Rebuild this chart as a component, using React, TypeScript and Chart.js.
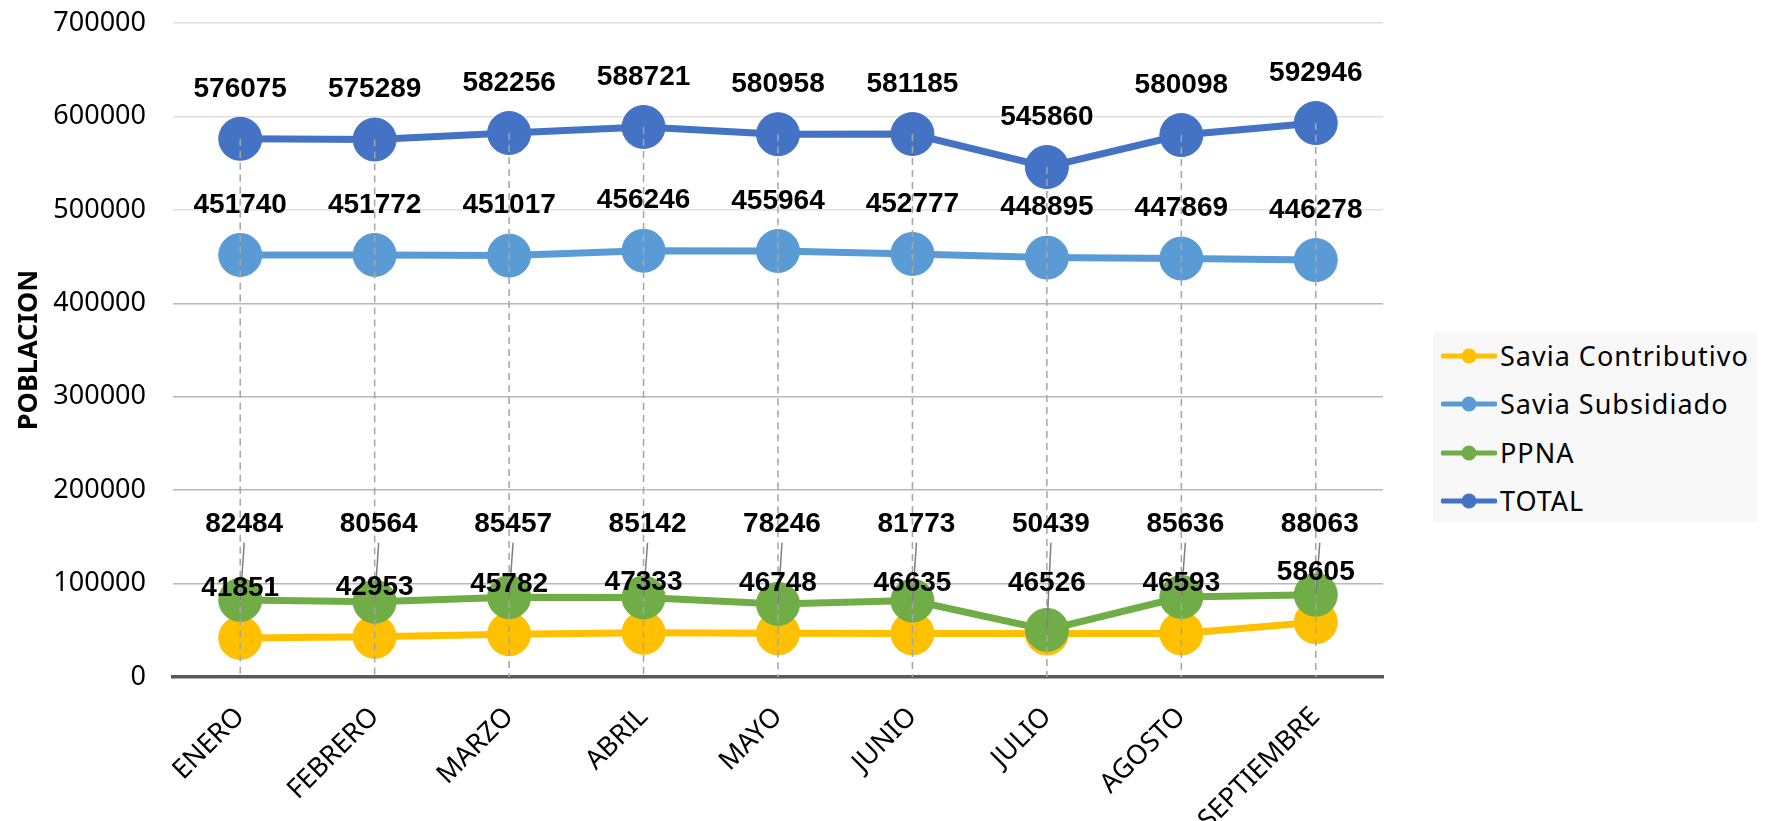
import React, { useEffect, useRef } from 'react';
import { Chart, registerables } from 'chart.js';

Chart.register(...registerables);

const months = ['ENERO', 'FEBRERO', 'MARZO', 'ABRIL', 'MAYO', 'JUNIO', 'JULIO', 'AGOSTO', 'SEPTIEMBRE'];
const saviaContributivo = [41851, 42953, 45782, 47333, 46748, 46635, 46526, 46593, 58605];
const saviaSubsidiado = [451740, 451772, 451017, 456246, 455964, 452777, 448895, 447869, 446278];
const ppna = [82484, 80564, 85457, 85142, 78246, 81773, 50439, 85636, 88063];
const total = [576075, 575289, 582256, 588721, 580958, 581185, 545860, 580098, 592946];
const yMin = 0;
const yMax = 700000;
const yStep = 100000;
const axisTitle = 'POBLACION';

const seriesNames = ['Savia Contributivo', 'Savia Subsidiado', 'PPNA', 'TOTAL'];
const seriesColors = ['#FFC000', '#5B9BD5', '#70AD47', '#4472C4'];

const W = 1765;
const H = 821;

const overlayPlugin = {
  id: 'overlay',
  afterDatasetsDraw(chart: any) {
    const ctx = chart.ctx;
    const bottom = chart.chartArea.bottom;
    const yScale = chart.scales.y;
    // drop lines from TOTAL points
    const totMeta = chart.getDatasetMeta(3);
    ctx.save();
    ctx.strokeStyle = '#a6a6a6';
    ctx.lineWidth = 1.5;
    ctx.setLineDash([7, 5]);
    totMeta.data.forEach((pt: any) => {
      ctx.beginPath();
      ctx.moveTo(pt.x, pt.y);
      ctx.lineTo(pt.x, bottom);
      ctx.stroke();
    });
    ctx.setLineDash([]);

    // PPNA label row (aligned above highest PPNA point) with leader lines
    const ppnaMeta = chart.getDatasetMeta(2);
    const ppnaRowY = yScale.getPixelForValue(Math.max(...ppna)) - 70;
    ctx.strokeStyle = '#7f7f7f';
    ctx.lineWidth = 1.5;
    ppnaMeta.data.forEach((pt: any) => {
      ctx.beginPath();
      ctx.moveTo(pt.x + 4, ppnaRowY + 18);
      ctx.lineTo(pt.x, pt.y);
      ctx.stroke();
    });

    ctx.font = 'bold 28px "Liberation Sans", Arial, sans-serif';
    ctx.fillStyle = '#000000';
    ctx.textAlign = 'center';
    ctx.textBaseline = 'middle';
    const drawAbove = (idx: number, values: number[]) => {
      const meta = chart.getDatasetMeta(idx);
      meta.data.forEach((pt: any, i: number) => {
        ctx.fillText(String(values[i]), pt.x, pt.y - 50);
      });
    };
    drawAbove(3, total);
    drawAbove(1, saviaSubsidiado);
    ppnaMeta.data.forEach((pt: any, i: number) => {
      ctx.fillText(String(ppna[i]), pt.x + 4, ppnaRowY);
    });
    drawAbove(0, saviaContributivo);
    ctx.restore();
  },
};

export default function App() {
  const canvasRef = useRef<HTMLCanvasElement | null>(null);

  useEffect(() => {
    const canvas = canvasRef.current;
    if (!canvas) return;
    const values = [saviaContributivo, saviaSubsidiado, ppna, total];
    const orders = [4, 3, 2, 1];
    const chart = new Chart(canvas, {
      type: 'line',
      data: {
        labels: months,
        datasets: values.map((v, i) => ({
          label: seriesNames[i],
          data: v,
          borderColor: seriesColors[i],
          backgroundColor: seriesColors[i],
          pointBackgroundColor: seriesColors[i],
          pointBorderColor: seriesColors[i],
          pointBorderWidth: 1,
          pointRadius: 21.5,
          pointHoverRadius: 21.5,
          borderWidth: 7,
          tension: 0,
          fill: false,
          order: orders[i],
        })),
      },
      options: {
        responsive: false,
        animation: false,
        events: [],
        layout: { padding: { top: 23, right: 382, left: 0, bottom: 0 } },
        plugins: {
          legend: { display: false },
          tooltip: { enabled: false },
          title: { display: false },
        },
        scales: {
          x: {
            type: 'category',
            offset: true,
            grid: { display: false, drawTicks: false },
            border: { display: true, color: '#595959', width: 3.5 },
            ticks: {
              autoSkip: false,
              minRotation: 45,
              maxRotation: 45,
              padding: 24,
              color: '#000000',
              font: { family: '"Noto Sans", sans-serif', size: 27 },
            },
            afterFit(scale: any) {
              scale.height = 144;
              scale.paddingLeft = 0;
              scale.paddingRight = 0;
            },
          },
          y: {
            min: yMin,
            max: yMax,
            grid: {
              drawTicks: false,
              lineWidth: 1.5,
              color: (c: any) => (c.tick && c.tick.value >= 500000 ? '#e0e0e0' : '#b8b8b8'),
            },
            border: { display: false },
            ticks: {
              stepSize: yStep,
              padding: 27,
              color: '#000000',
              font: { family: '"Noto Sans", sans-serif', size: 27 },
              callback: (v: any) => String(v),
            },
            title: {
              display: true,
              text: axisTitle,
              color: '#000000',
              font: { family: '"Noto Sans", sans-serif', size: 27, weight: 'bold' },
              padding: { top: 13, bottom: 0 },
            },
            afterFit(scale: any) {
              scale.width = 173;
              scale.paddingTop = 0;
              scale.paddingBottom = 0;
            },
          },
        },
      },
      plugins: [overlayPlugin],
    } as any);
    return () => chart.destroy();
  }, []);

  const legendTop = 332;
  const itemCenters = [23.7, 72.3, 120.7, 169];

  return (
    <div style={{ position: 'fixed', left: 0, top: 0, width: W, height: H, background: '#ffffff' }}>
      <canvas ref={canvasRef} width={W} height={H} style={{ display: 'block', width: W, height: H }} />
      <div
        style={{
          position: 'absolute',
          left: 1433,
          top: legendTop,
          width: 324,
          height: 190,
          background: '#f8f8f8',
        }}
      >
        {seriesNames.map((name, i) => (
          <div
            key={name}
            style={{
              position: 'absolute',
              left: 8,
              top: itemCenters[i] - 20,
              height: 40,
              display: 'flex',
              alignItems: 'center',
              whiteSpace: 'nowrap',
            }}
          >
            <svg width={56} height={40} style={{ display: 'block' }}>
              <line x1={2} y1={20} x2={54} y2={20} stroke={seriesColors[i]} strokeWidth={5} strokeLinecap="round" />
              <circle cx={28} cy={20} r={7.5} fill={seriesColors[i]} />
            </svg>
            <span
              style={{
                marginLeft: 3,
                fontFamily: '"Noto Sans", sans-serif',
                fontSize: 27,
                letterSpacing: 1,
                lineHeight: '40px',
                color: '#000000',
              }}
            >
              {name}
            </span>
          </div>
        ))}
      </div>
    </div>
  );
}
